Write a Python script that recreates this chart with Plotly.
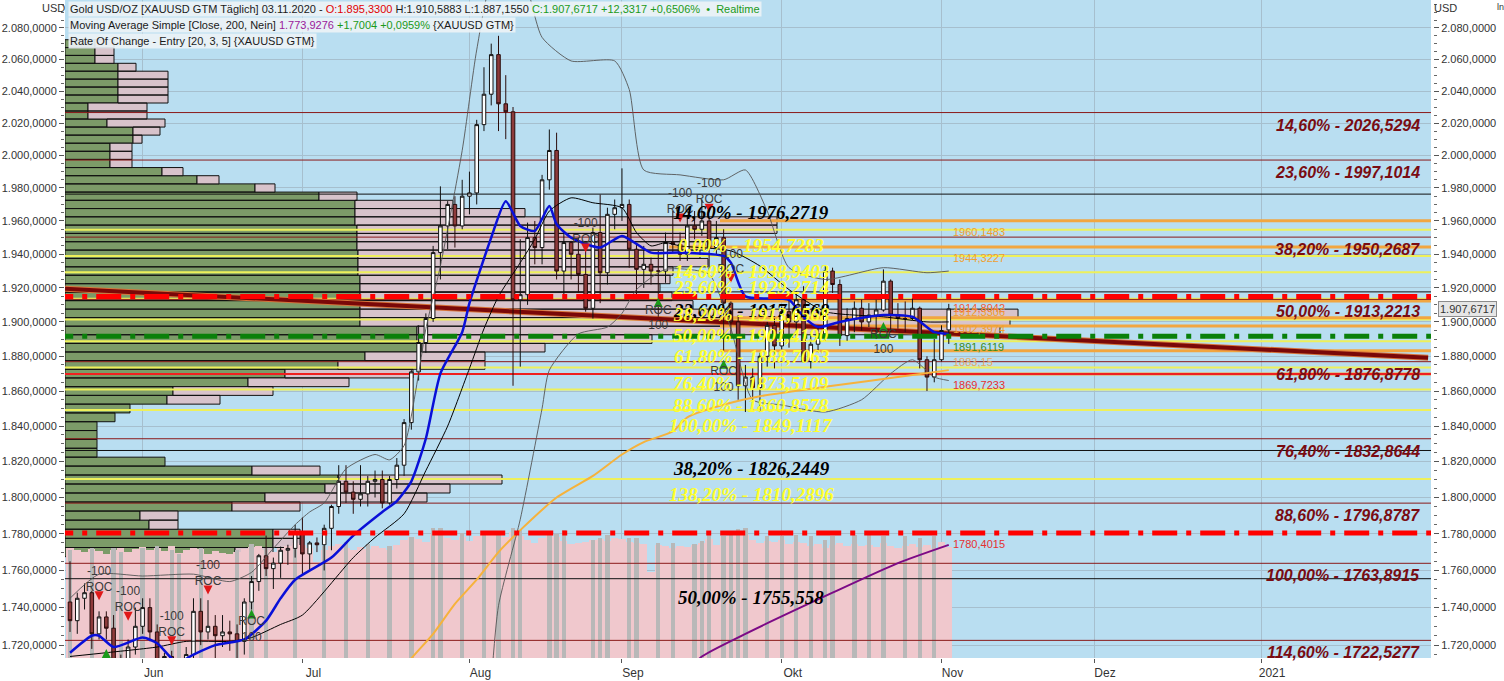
import math
import pandas as pd
import plotly.graph_objects as go

# ---------------- data ----------------
dates = [d.strftime("%Y-%m-%d") for d in pd.bdate_range("2020-05-18", "2020-11-03")]

opens = [1743,1733,1745,1748,1726,1735,1729,1710,1708,1719,
         1730,1740,1727,1700,1714,1685,1697,1715,1738,1727,
         1730,1725,1727,1726,1722,1743,1754,1768,1761,1764,
         1771,1772,1781,1769,1775,1774,1783,1795,1809,1803,
         1799,1802,1809,1810,1797,1810,1818,1842,1871,1888,
         1902,1941,1957,1970,1957,1975,1977,2019,2038,2063,
         2032,2027,1913,1916,1950,1944,1985,2003,1930,1947,
         1940,1928,1908,1953,1929,1964,1968,1970,1943,1931,
         1934,1930,1930,1947,1946,1940,1957,1955,1960,1944,
         1950,1911,1900,1863,1868,1862,1880,1898,1886,1906,
         1900,1913,1877,1887,1893,1930,1922,1892,1902,1908,
         1900,1904,1907,1924,1904,1902,1902,1908,1878,1868,
         1878,1895.33]
highs = [1765,1748,1753,1749,1738,1738,1736,1715,1723,1740,
         1745,1745,1731,1716,1717,1699,1719,1745,1745,1744,
         1736,1736,1733,1731,1745,1757,1769,1779,1767,1773,
         1774,1785,1789,1776,1778,1785,1796,1818,1818,1809,
         1818,1812,1815,1815,1812,1822,1844,1872,1898,1905,
         1945,1981,1972,1975,1985,1990,2022,2055,2070,2075,
         2050,2030,1949,1959,1960,1988,2016,2014,1953,1948,
         1950,1944,1956,1976,1968,1973,1992,1973,1946,1945,
         1938,1942,1953,1966,1953,1963,1966,1973,1962,1960,
         1955,1912,1904,1875,1873,1882,1900,1902,1909,1917,
         1918,1921,1892,1897,1933,1932,1925,1908,1912,1913,
         1911,1913,1931,1925,1911,1912,1914,1909,1880,1890,
         1898,1910.59]
lows = [1727,1726,1739,1718,1723,1723,1704,1694,1697,1715,
        1726,1722,1693,1693,1670,1680,1694,1708,1720,1723,
        1704,1719,1717,1712,1715,1739,1749,1757,1750,1756,
        1763,1767,1757,1760,1770,1760,1771,1791,1797,1791,
        1795,1795,1800,1794,1796,1805,1812,1838,1866,1882,
        1900,1925,1943,1944,1955,1964,1970,2015,2031,2015,
        2010,1863,1874,1910,1934,1934,1979,1925,1915,1925,
        1917,1906,1902,1911,1922,1955,1960,1932,1916,1920,
        1922,1903,1923,1941,1936,1936,1949,1951,1931,1940,
        1882,1891,1855,1848,1849,1848,1874,1873,1884,1885,
        1895,1877,1873,1883,1889,1917,1886,1889,1894,1895,
        1897,1890,1906,1894,1896,1894,1901,1873,1860,1865,
        1877,1887.16]
closes = [1733,1745,1748,1726,1735,1729,1710,1708,1719,1730,
          1740,1727,1700,1714,1685,1697,1715,1738,1727,1730,
          1725,1727,1726,1722,1743,1754,1768,1761,1764,1771,
          1772,1781,1769,1775,1774,1783,1795,1809,1803,1799,
          1802,1809,1810,1797,1810,1818,1842,1871,1888,1902,
          1941,1957,1970,1957,1975,1977,2019,2038,2063,2032,
          2027,1913,1916,1950,1944,1985,2003,1930,1947,1940,
          1928,1908,1953,1929,1964,1968,1970,1943,1931,1934,
          1930,1930,1947,1946,1940,1957,1955,1960,1944,1950,
          1911,1900,1863,1868,1862,1880,1898,1886,1906,1900,
          1913,1877,1887,1893,1930,1922,1892,1902,1908,1900,
          1904,1907,1924,1904,1902,1902,1908,1878,1868,1878,
          1895,1907.67]

# volume histogram (bottom), pink for every day, grey on some days
vol_pink = [110,108,106,109,107,104,108,110,106,109,
            111,108,110,107,112,105,108,110,109,104,
            107,105,104,106,109,111,112,108,106,110,
            112,115,113,110,96,108,112,114,110,108,
            111,109,112,110,108,113,118,121,119,116,
            124,122,120,118,121,117,122,125,123,124,
            121,126,122,118,115,120,123,121,117,114,
            115,116,118,119,117,120,119,116,115,114,
            86,113,112,110,112,111,113,115,119,113,
            121,122,124,123,118,115,117,116,118,114,
            116,115,112,114,110,113,115,112,114,112,
            113,111,115,112,110,112,114,111,113,110,
            116,111]
gray_dates = ["2020-05-18","2020-05-21","2020-05-26","2020-05-27","2020-06-01","2020-06-03","2020-06-05",
              "2020-06-08","2020-06-11","2020-06-18","2020-06-22","2020-06-24","2020-06-30","2020-07-06",
              "2020-07-09","2020-07-14","2020-07-17","2020-07-22","2020-07-27","2020-07-28","2020-07-31",
              "2020-08-05","2020-08-07","2020-08-11","2020-08-12","2020-08-18","2020-08-19","2020-08-20",
              "2020-08-26","2020-08-27","2020-08-28","2020-09-02","2020-09-03","2020-09-08","2020-09-10",
              "2020-09-15","2020-09-16","2020-09-17","2020-09-21","2020-09-22","2020-09-23","2020-09-24",
              "2020-09-29","2020-10-01","2020-10-05","2020-10-07","2020-10-09","2020-10-12","2020-10-15",
              "2020-10-19","2020-10-21","2020-10-26","2020-10-28","2020-10-30"]
gray_vol = [108,110,110,106,110,112,108,104,110,108,114,110,118,112,116,114,112,121,130,130,125,
            125,126,130,128,123,124,128,118,120,123,120,120,115,115,114,117,123,122,125,129,130,
            122,122,123,122,118,122,123,123,122,122,120,122]

# moving averages / bands
ma_fast_dates = ["2020-05-18","2020-05-21","2020-05-22","2020-05-26","2020-06-01","2020-06-03","2020-06-05",
                 "2020-06-08","2020-06-10","2020-06-15","2020-06-19","2020-06-24","2020-06-26","2020-06-30",
                 "2020-07-07","2020-07-10","2020-07-16","2020-07-20","2020-07-22","2020-07-24","2020-07-28",
                 "2020-07-31","2020-08-03","2020-08-06","2020-08-10","2020-08-12","2020-08-14","2020-08-18",
                 "2020-08-19","2020-08-21","2020-08-27","2020-09-01","2020-09-07","2020-09-11","2020-09-21",
                 "2020-09-22","2020-09-24","2020-10-02","2020-10-06","2020-10-08","2020-10-13","2020-10-21",
                 "2020-10-27","2020-10-30","2020-11-03"]
ma_fast_vals = [1716,1725,1725,1719,1724,1721,1713,1711,1715,1720,1723,1733,1745,1755,1767,1779,1792,
                1798,1809,1833,1870,1894,1911,1950,1972,1957,1954,1969,1958,1950,1944,1951,1941,1941,
                1939,1935,1915,1913,1903,1897,1900,1904,1903,1894,1893]

ma_mid_dates = ["2020-05-18","2020-05-25","2020-06-03","2020-06-09","2020-06-17","2020-06-22","2020-06-26",
                "2020-07-01","2020-07-10","2020-07-15","2020-07-21","2020-07-24","2020-07-29","2020-08-03",
                "2020-08-05","2020-08-07","2020-08-12","2020-08-14","2020-08-18","2020-08-21","2020-08-26",
                "2020-09-01","2020-09-03","2020-09-07","2020-09-09","2020-09-11","2020-09-22","2020-09-28",
                "2020-10-02","2020-10-09","2020-10-21","2020-10-29","2020-11-03"]
ma_mid_vals = [1714,1716,1719,1722,1722,1724,1731,1736,1767,1778,1791,1815,1840,1873,1896,1915,1935,
               1949,1966,1974,1971,1968,1953,1945,1947,1945,1942,1933,1919,1906,1903,1900,1900]

bb_up_dates = ["2020-05-18","2020-05-22","2020-06-01","2020-06-10","2020-06-17","2020-06-22","2020-06-25",
               "2020-06-30","2020-07-02","2020-07-06","2020-07-09","2020-07-15","2020-07-17","2020-07-21",
               "2020-07-23","2020-07-24","2020-07-28","2020-07-31","2020-08-04","2020-08-06","2020-08-11",
               "2020-08-13","2020-08-17","2020-08-21","2020-08-31","2020-09-02","2020-09-04","2020-09-11",
               "2020-09-21","2020-09-24","2020-09-29","2020-10-02","2020-10-09","2020-10-21","2020-10-29",
               "2020-11-03"]
bb_up_vals = [1745,1758,1757,1758,1754,1759,1772,1785,1792,1797,1816,1824,1821,1829,1870,1896,1933,
              2003,2066,2110,2125,2105,2074,2059,2059,2041,1991,1988,1985,1991,1966,1932,1925,1932,
              1929,1930]

bb_lo_dates = ["2020-08-06","2020-08-07","2020-08-12","2020-08-17","2020-08-18","2020-08-24","2020-08-28",
               "2020-09-01","2020-09-03","2020-09-09","2020-09-17","2020-09-22","2020-09-25","2020-10-01",
               "2020-10-09","2020-10-16","2020-10-22","2020-10-27","2020-10-30","2020-11-03"]
bb_lo_vals = [1700,1741,1788,1850,1872,1893,1897,1905,1919,1931,1928,1896,1855,1852,1848,1855,1870,
              1878,1868,1866]

ma_slow_dates = ["2020-07-21","2020-07-22","2020-07-27","2020-07-30","2020-08-04","2020-08-07","2020-08-12",
                 "2020-08-19","2020-08-26","2020-09-01","2020-09-04","2020-09-10","2020-09-14","2020-09-18",
                 "2020-09-28","2020-10-12","2020-10-23","2020-11-03"]
ma_slow_vals = [1708,1713,1726,1742,1755,1770,1782,1800,1812,1824,1831,1837,1845,1851,1857,1863,1868,1872]

ma200_dates = ["2020-09-14","2020-09-16","2020-09-24","2020-10-12","2020-10-23","2020-11-03"]
ma200_vals = [1706,1714,1726,1748,1764,1773.9276]

trend_dates = ["2020-05-15", "2021-02-03"]
trend_vals = [1919.6, 1879.1]

# Fibonacci sets
fib_red_levels = [2026.5294,1997.1014,1950.2687,1913.2213,1876.8778,1832.8644,1796.8787,1763.8915,1722.5277]
fib_red_labels = ["14,60% - 2026,5294","23,60% - 1997,1014","38,20% - 1950,2687","50,00% - 1913,2213",
                  "61,80% - 1876,8778","76,40% - 1832,8644","88,60% - 1796,8787","100,00% - 1763,8915",
                  "114,60% - 1722,5277"]
fib_black_levels = [1976.2719,1917.6568,1826.2449,1755.558]
fib_black_labels = ["14,60% - 1976,2719","23,60% - 1917,6568","38,20% - 1826,2449","50,00% - 1755,558"]
fib_yel_levels = [1954.7283,1938.9403,1929.2714,1913.6568,1901.4190,1888.7063,1873.5109,1860.8578,
                  1849.1117,1810.2896]
fib_yel_labels = ["0,00% - 1954,7283","14,60% - 1938,9403","23,60% - 1929,2714","38,20% - 1913,6568",
                  "50,00% - 1901,4190","61,80% - 1888,7063","76,40% - 1873,5109","88,60% - 1860,8578",
                  "100,00% - 1849,1117","138,20% - 1810,2896"]

orange_levels = [1960.1483,1944.3227,1912.3306,1902.3974,1897.6,1883.15,1869.7233]
orange_start = ["2020-09-21","2020-09-10","2020-09-21","2020-09-21","2020-09-21","2020-09-21","2020-09-21"]
red_thin_levels = [1869.7233]
red_dash_levels = [1914.8942, 1780.4015]
green_dash_levels = [1891.6119]

side_vals = [1960.1483,1944.3227,1914.8942,1912.3306,1902.3974,1891.6119,1883.15,1869.7233,1780.4015]
side_texts = ["1960,1483","1944,3227","1914,8942","1912,3306","1902,3974","1891,6119","1883,15","1869,7233","1780,4015"]
side_colors = ["#f0a030","#f0a030","#f25c3a","#f0a030","#f0a030","#3b8c18","#e8a860","#e53030","#e53030"]

# volume-by-price profile (left)
profile_price = [2070,2065,2060,2055,2050,2045,2040,2035,2030,2025,2020,2015,2010,2005,2000,1995,1990,
                 1985,1980,1975,1970,1965,1960,1955,1950,1945,1940,1935,1930,1925,1920,1915,1910,1905,
                 1900,1895,1890,1885,1880,1875,1870,1865,1860,1855,1850,1845,1840,1835,1830,1825,1820,
                 1815,1810,1805,1800,1795,1790,1785,1780,1775,1770]
profile_up = [30,30,30,53,53,53,53,53,23,23,42,68,68,45,45,45,97,132,190,254,290,290,290,292,292,292,
              293,293,293,295,295,295,295,295,295,352,352,357,300,273,220,183,108,102,65,50,32,32,32,32,
              100,187,273,260,200,167,75,84,208,208,170]
profile_total = [49,49,49,71,103,103,103,103,82,82,100,95,77,67,67,67,118,154,210,292,388,460,712,712,645,
                 640,635,643,608,605,595,607,628,953,945,935,587,480,420,420,348,284,208,155,65,50,32,32,
                 32,32,100,255,437,385,362,235,113,113,235,235,208]

# ROC signals
roc_dn_dates = ["2020-05-22","2020-05-28","2020-06-05","2020-06-12","2020-08-25","2020-09-11","2020-09-17","2020-09-22"]
roc_dn_price = [1744,1733,1720,1747,1941,1959,1965,1923]
roc_dn_text = ["-100<br>ROC"] * 8
roc_up_dates = ["2020-05-25","2020-06-22","2020-09-08","2020-09-21","2020-10-21"]
roc_up_price = [1718,1739,1914,1878,1900]
roc_up_text = ["", "ROC<br>100", "ROC<br>100", "ROC<br>100", "ROC<br>100"]

tick_dates = ["2020-06-01","2020-07-01","2020-08-03","2020-09-01","2020-10-01","2020-11-02","2020-12-01","2021-01-01"]
tick_text = ["Jun","Jul","Aug","Sep","Okt","Nov","Dez","2021"]
price_ticks = [1720,1740,1760,1780,1800,1820,1840,1860,1880,1900,1920,1940,1960,1980,2000,2020,2040,2060,2080]
minor_ticks = [1715 + 5 * k for k in range(77)]

# ---------------- scales ----------------
axis_days = [d.strftime("%Y-%m-%d") for d in pd.bdate_range("2020-05-11", "2021-03-01")]
origin = axis_days.index("2020-05-18")
pos = {d: i - origin for i, d in enumerate(axis_days)}
def P(ds):
    return [pos[d] for d in ds]

X_RANGE = [-0.69, 187.4]
X_LO, X_HI = -3, 192
Y_RANGE = [math.log10(1713.2), math.log10(2098.0)]
L = math.log10

fig = go.Figure()
# base subplot dummy
fig.add_trace(go.Scatter(x=[0], y=[0], mode="markers", marker=dict(opacity=0), xaxis="x", yaxis="y", hoverinfo="skip"))

# profile (x = volume axis, y2 = price)
half = (profile_price[0] - profile_price[1]) / 2
gx, gy, kx, ky = [], [], [], []
for c, g, t in zip(profile_price, profile_up, profile_total):
    lo, hi = c - half, c + half
    gx += [0, g, g, 0, 0, None]
    gy += [lo, lo, hi, hi, lo, None]
    if t > g:
        kx += [g, t, t, g, g, None]
        ky += [lo, lo, hi, hi, lo, None]
fig.add_trace(go.Scatter(x=gx, y=gy, fill="toself", fillcolor="#7c9b68", mode="lines",
                         line=dict(color="#101010", width=1), xaxis="x", yaxis="y2", hoverinfo="skip"))
fig.add_trace(go.Scatter(x=kx, y=ky, fill="toself", fillcolor="#d8c3cb", mode="lines",
                         line=dict(color="#101010", width=1), xaxis="x", yaxis="y2", hoverinfo="skip"))

# volume bars (x2 = trading days, y = volume)
fig.add_trace(go.Bar(x=P(dates), y=vol_pink, width=1.0, marker=dict(color="#f0c8cd", line=dict(width=0)),
                     xaxis="x2", yaxis="y", hoverinfo="skip"))
fig.add_trace(go.Bar(x=P(gray_dates), y=gray_vol, width=0.6, marker=dict(color="#b8b8b8", line=dict(width=0)),
                     xaxis="x2", yaxis="y", hoverinfo="skip"))

def hline(level, color, width, start=None, dash=None, z=0):
    x0 = pos[start] - 0.5 if start else X_LO
    fig.add_trace(go.Scatter(x=[x0, X_HI], y=[level, level], mode="lines",
                             line=dict(color=color, width=width, dash=dash),
                             xaxis="x2", yaxis="y2", hoverinfo="skip", zorder=z))

for lv in fib_yel_levels:
    hline(lv, "#eef05a", 2)
for lv, st in zip(orange_levels, orange_start):
    hline(lv, "#f2a640", 3, start=st)
for lv in fib_red_levels:
    hline(lv, "#8a1a1a", 1)
for lv in fib_black_levels:
    hline(lv, "#111111", 1)
for lv in red_thin_levels:
    hline(lv, "#f02020", 2)

# trend line
fig.add_trace(go.Scatter(x=P(trend_dates), y=trend_vals, mode="lines", line=dict(color="#d8743a", width=6),
                         xaxis="x2", yaxis="y2", hoverinfo="skip", zorder=1))
fig.add_trace(go.Scatter(x=P(trend_dates), y=trend_vals, mode="lines", line=dict(color="#7a0808", width=4),
                         xaxis="x2", yaxis="y2", hoverinfo="skip", zorder=1))

# candles
fig.add_trace(go.Candlestick(x=P(dates), open=opens, high=highs, low=lows, close=closes,
                             xaxis="x2", yaxis="y2", whiskerwidth=0,
                             increasing=dict(line=dict(color="#111111", width=1), fillcolor="#ffffff"),
                             decreasing=dict(line=dict(color="#2a0c0c", width=1), fillcolor="#8e3b3b"),
                             hoverinfo="skip", zorder=2))

def ma(ds, vs, color, width, z=3):
    fig.add_trace(go.Scatter(x=P(ds), y=vs, mode="lines", line=dict(color=color, width=width, shape="spline", smoothing=0.6),
                             xaxis="x2", yaxis="y2", hoverinfo="skip", zorder=z))

ma(bb_up_dates, bb_up_vals, "#555555", 0.9)
ma(bb_lo_dates, bb_lo_vals, "#555555", 0.9)
ma(ma_slow_dates, ma_slow_vals, "#f6b23c", 2)
ma(ma200_dates, ma200_vals, "#7d0a86", 2)
ma(ma_mid_dates, ma_mid_vals, "#000000", 1)
ma(ma_fast_dates, ma_fast_vals, "#0a10d8", 2.5)

DASH = "25px,9px,5px,9px"
for lv in red_dash_levels:
    hline(lv, "#ff0000", 5, dash=DASH, z=4)
for lv in green_dash_levels:
    hline(lv, "#0a800a", 5, dash=DASH, z=4)

# ROC signals
fig.add_trace(go.Scatter(x=P(roc_dn_dates), y=roc_dn_price, mode="markers+text", text=roc_dn_text,
                         textposition="top center", textfont=dict(family="Liberation Sans", size=12, color="#3a3a3a"),
                         marker=dict(symbol="arrow-down", size=9, color="#e01818"),
                         xaxis="x2", yaxis="y2", hoverinfo="skip", zorder=5))
fig.add_trace(go.Scatter(x=P(roc_up_dates), y=roc_up_price, mode="markers+text", text=roc_up_text,
                         textposition="bottom center", textfont=dict(family="Liberation Sans", size=12, color="#3a3a3a"),
                         marker=dict(symbol="arrow-up", size=9, color="#1a9a1a"),
                         xaxis="x2", yaxis="y2", hoverinfo="skip", zorder=5))

# right-axis carrier
fig.add_trace(go.Scatter(x=[0], y=[1800], mode="markers", marker=dict(opacity=0), xaxis="x2", yaxis="y3", hoverinfo="skip"))

ann = []
for lv, tx in zip(fib_red_levels, fib_red_labels):
    ann.append(dict(xref="paper", yref="y2", x=0.9934, y=L(lv), xanchor="right", yanchor="top", yshift=-2,
                    text="<b><i>%s</i></b>" % tx, showarrow=False,
                    font=dict(family="Liberation Sans", size=16, color="#7a0c12")))
for lv, tx in zip(fib_black_levels, fib_black_labels):
    ann.append(dict(xref="paper", yref="y2", x=0.5022, y=L(lv), xanchor="center", yanchor="top", yshift=-6,
                    text="<b><i>%s</i></b>" % tx, showarrow=False,
                    font=dict(family="Liberation Serif", size=19, color="#000000")))
for lv, tx in zip(fib_yel_levels, fib_yel_labels):
    ann.append(dict(xref="paper", yref="y2", x=0.5022, y=L(lv), xanchor="center", yanchor="top", yshift=-3,
                    text="<b><i>%s</i></b>" % tx, showarrow=False,
                    font=dict(family="Liberation Serif", size=19, color="#ffff2a")))
for lv, tx, col in zip(side_vals, side_texts, side_colors):
    ann.append(dict(xref="x2", yref="y2", x=pos["2020-11-03"] + 0.25, y=L(lv), xanchor="left", yanchor="top", yshift=-3,
                    text=tx, showarrow=False, font=dict(family="Liberation Sans", size=11, color=col)))

leg_font = dict(family="Liberation Sans", size=11, color="#1a1a1a")
line1 = ("Gold USD/OZ [XAUUSD GTM Täglich] 03.11.2020 - <span style='color:#e00000'>O:1.895,3300</span> "
         "H:1.910,5883 L:1.887,1550 <span style='color:#1a9a1a'>C:1.907,6717 +12,3317 +0,6506%  •  Realtime</span>")
line2 = ("Moving Average Simple [Close, 200, Nein] <span style='color:#9a1a9a'>1.773,9276</span> "
         "<span style='color:#1a9a1a'>+1,7004 +0,0959%</span> {XAUUSD GTM}")
line3 = "Rate Of Change - Entry [20, 3, 5] {XAUUSD GTM}"
for i, tx in enumerate([line1, line2, line3]):
    ann.append(dict(xref="paper", yref="paper", x=0.0022, y=1, xanchor="left", yanchor="top", yshift=-1 - 16 * i,
                    text=tx, showarrow=False, font=leg_font, bgcolor="rgba(236,242,246,0.92)", borderpad=1))

ann.append(dict(xref="paper", yref="paper", x=-0.0185, y=1, xanchor="left", yanchor="top", text="USD",
                showarrow=False, font=dict(family="Liberation Sans", size=11, color="#333")))
ann.append(dict(xref="paper", yref="paper", x=1.0007, y=1, xanchor="left", yanchor="top", text="USD",
                showarrow=False, font=dict(family="Liberation Sans", size=11, color="#333")))
ann.append(dict(xref="paper", yref="paper", x=1.047, y=1, xanchor="left", yanchor="top", text="ln",
                showarrow=False, font=dict(family="Liberation Sans", size=9, color="#333")))
ann.append(dict(xref="paper", yref="y2", x=1.0, xshift=7, y=L(closes[-1]), xanchor="left", yanchor="middle",
                text="1.907,6717", showarrow=False, bgcolor="#e6e6e6", bordercolor="#8c8c8c", borderwidth=1,
                borderpad=1, font=dict(family="Liberation Sans", size=11, color="#333")))

grid = "#a6bfce"
yfont = dict(family="Liberation Sans", size=11, color="#333")
ycommon = dict(type="log", range=Y_RANGE, tickmode="array", tickvals=price_ticks, tickformat=",.4f",
               ticks="outside", ticklen=5, tickcolor="#555", tickfont=yfont, zeroline=False,
               minor=dict(tickmode="array", tickvals=minor_ticks, ticks="outside", ticklen=3, tickcolor="#666", showgrid=False),
               fixedrange=True)

fig.update_layout(
    width=1504, height=681,
    margin=dict(l=65, r=73, t=0, b=23),
    paper_bgcolor="white", plot_bgcolor="#b9def1",
    separators=",.", showlegend=False, barmode="overlay", bargap=0, hovermode=False,
    xaxis=dict(range=[0, 1366], visible=False, fixedrange=True),
    yaxis=dict(range=[0, 658], visible=False, fixedrange=True),
    xaxis2=dict(overlaying="x", anchor="y", side="bottom", range=X_RANGE, tickmode="array",
                tickvals=P(tick_dates), ticktext=tick_text, ticks="outside", ticklen=4, tickcolor="#555",
                showgrid=True, gridcolor=grid, gridwidth=1, showline=True, linecolor="#8a8a8a", zeroline=False,
                tickfont=dict(family="Liberation Sans", size=12, color="#333"), ticklabelshift=11,
                rangeslider=dict(visible=False), fixedrange=True),
    yaxis2=dict(overlaying="y", side="left", anchor="x", showgrid=True, gridcolor=grid, gridwidth=1,
                showline=True, linecolor="#8a8a8a", **ycommon),
    yaxis3=dict(overlaying="y", side="right", anchor="x", showgrid=False, showline=True,
                linecolor="#8f8f8f", linewidth=3, **ycommon),
    annotations=ann,
)

fig.write_html("out.html", config={"displayModeBar": False},
               post_script="document.body.style.margin='0';document.body.style.overflow='hidden';")
